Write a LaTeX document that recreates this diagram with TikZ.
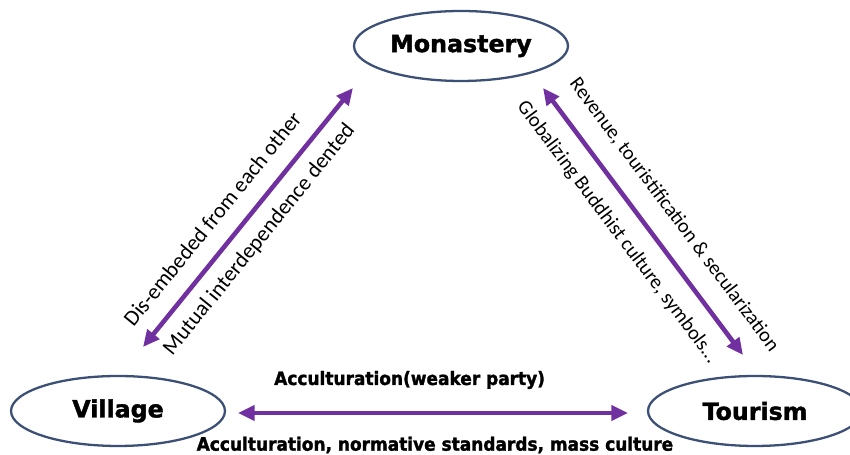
\documentclass[tikz,border=0pt]{standalone}
\usepackage{fontspec}
\setmainfont{Carlito}
\newfontfamily\headfont[FakeBold=1.6]{DejaVu Sans}
\newfontfamily\condfont[FakeStretch=0.92,FakeBold=1.6]{DejaVu Sans}
\usetikzlibrary{arrows.meta,shapes.geometric}
\definecolor{rim}{RGB}{60,80,118}
\definecolor{linkpurple}{RGB}{112,48,160}
\tikzset{
  place/.style={draw=rim, line width=1.3pt, ellipse, inner sep=0pt,
    minimum width=4.28cm, minimum height=1.40cm,
    font=\headfont\bfseries\fontsize{13.5}{16}\selectfont},
  link/.style={linkpurple, line width=2.6pt,
    {Triangle[length=9.5pt,width=8.5pt]}-{Triangle[length=9.5pt,width=8.5pt]}},
  leftlabel/.style={text=black, font=\fontsize{12.5}{15}\selectfont, sloped, anchor=center},
  rightlabel/.style={text=black, font=\fontsize{11.5}{14}\selectfont, sloped, anchor=center},
  flatlabel/.style={text=black, font=\condfont\bfseries\fontsize{10.5}{12}\selectfont, anchor=center}
}
\begin{document}
\begin{tikzpicture}[x=0.02cm, y=-0.02cm]
        \useasboundingbox (0, 0) rectangle (850, 455);

        % the three places
        \node [place] (monastery) at (461, 46) {Monastery};
        \node [place] (village) at (118, 411) {Village};
        \node [place] (tourism) at (755, 411) {Tourism};

        % arrow ends
        \coordinate (vm1) at (143, 347);
        \coordinate (vm2) at (353, 88);
        \coordinate (mt1) at (543, 88);
        \coordinate (mt2) at (743, 355);
        \coordinate (vt1) at (238, 413);
        \coordinate (vt2) at (628, 413);

        \draw [link] (vm1) -- node [leftlabel, pos=0.43, yshift=15.4pt] {Dis-embeded from each other}
            node [leftlabel, pos=0.47, yshift=-13pt] {Mutual interdependence dented} (vm2);
        \draw [link] (mt1) -- node [rightlabel, pos=0.54, yshift=16.5pt] {Revenue, touristification \& secularization}
            node [rightlabel, pos=0.48, yshift=-15.4pt] {Globalizing Buddhist culture, symbols...} (mt2);
        \draw [link] (vt1) -- node [flatlabel, pos=0.44, yshift=18.8pt] {Acculturation(weaker party)}
            node [flatlabel, pos=0.505, yshift=-18.2pt] {Acculturation, normative standards, mass culture} (vt2);
\end{tikzpicture}
\end{document}
